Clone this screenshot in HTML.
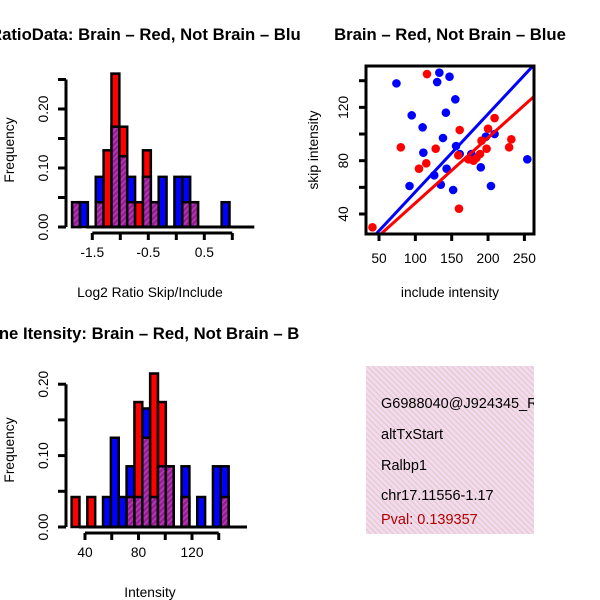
<!DOCTYPE html>
<html><head><meta charset="utf-8"><style>
body{margin:0;background:#fff}
svg{display:block;font-family:"Liberation Sans",sans-serif}
</style></head><body>
<svg id="c" width="600" height="600" viewBox="0 0 600 600" xmlns="http://www.w3.org/2000/svg">
<defs>
<pattern id="hatch" width="4" height="4" patternUnits="userSpaceOnUse" patternTransform="rotate(45)">
<rect width="4" height="4" fill="#9a1a9a"/><rect width="1.5" height="4" fill="#b040b0"/></pattern>
<pattern id="pink" width="4" height="4" patternUnits="userSpaceOnUse" patternTransform="rotate(-45)">
<rect width="4" height="4" fill="#f8d8f0"/><rect width="1.2" height="4" fill="#d8d0c8"/></pattern>
<clipPath id="cl1"><rect x="0" y="0" width="300" height="300"/></clipPath>
<clipPath id="cl2"><rect x="0" y="300" width="300" height="300"/></clipPath>
<clipPath id="cl3"><rect x="300" y="0" width="300" height="300"/></clipPath>
<clipPath id="cl4"><rect x="366" y="366" width="168" height="168"/></clipPath>
<clipPath id="sbox"><rect x="366" y="66" width="168" height="168"/></clipPath>
</defs>
<g id="p1"></g><g id="p2"></g><g id="p3"></g>
<g>
<rect x="366" y="366" width="168" height="168" fill="url(#pink)"/>
<g clip-path="url(#cl4)" font-size="14.5">
<text x="381" y="408">G6988040@J924345_RG</text>
<text x="381" y="439">altTxStart</text>
<text x="381" y="470">Ralbp1</text>
<text x="381" y="500">chr17.11556-1.17</text>
<text x="381" y="524" fill="#b00000">Pval: 0.139357</text>
</g></g>
</svg>
<script>
const NS="http://www.w3.org/2000/svg";
// Histogram 1 (ratio) data: frequencies per bin
const h1Red=[0.042,0,0,0.042,0.13,0.26,0.17,0.042,0.042,0.13,0.042,0,0,0,0.042,0.042,0,0,0,0];
const h1Blue=[0.042,0.042,0,0.085,0,0.17,0.12,0.085,0,0.085,0.042,0.085,0,0.085,0.085,0.042,0,0,0,0.042];
const h1XTicks=[-1.5,-1.0,-0.5,0.0,0.5,1.0];
const h1XLabels=["-1.5","","-0.5","","0.5",""];
const h1YTicks=[0,0.05,0.10,0.15,0.20,0.25];
const h1YLabels=["0.00","","0.10","","0.20",""];
const h1BinStart=-1.86, h1BinWidth=0.1405;
// Histogram 2 (intensity)
const h2Red=[0.042,0,0.042,0,0,0,0,0.042,0.175,0.125,0.215,0.175,0.085,0,0.042,0,0,0,0,0.042];
const h2Blue=[0,0,0,0,0.042,0.125,0.042,0.085,0.042,0.166,0.042,0.085,0.085,0,0.085,0,0.042,0,0.085,0.085];
const h2XTicks=[40,60,80,100,120,140];
const h2XLabels=["40","","80","","120",""];
const h2YTicks=[0,0.05,0.10,0.15,0.20];
const h2YLabels=["0.00","","0.10","","0.20"];
const h2BinStart=30, h2BinWidth=5.87;
// Scatter
const blueX=[74,133,130,147,155,95,142,110,138,111,156,161,177,197,209,143,126,92,135,152,190,204,254];
const blueY=[138,146,139,143,126,114,116,105,97,86,91,85,85,98,100,74,69,61,62,58,75,61,81];
const redX=[116,80,105,115,128,161,209,200,232,229,191,198,189,180,173,159,184,160,41];
const redY=[145,90,74,78,89,103,112,104,96,90,95,89,85,80,81,84,82,44,30];
const blueFit=[-1.8,0.584], redFit=[-0.8,0.49];
const sXTicks=[50,100,150,200,250], sYTicks=[40,60,80,100,120,140];
const sYLabels=["40","","80","","120",""];

const FS=13.8, TFS=16.7;
function el(p,tag,a,txt){const e=document.createElementNS(NS,tag);for(const k in a)e.setAttribute(k,a[k]);if(txt!==undefined)e.textContent=txt;p.appendChild(e);return e;}

function hist(g,o){
  const sx=v=>o.x0+(v-o.xmin)*o.kx, sy=v=>o.y0-v*o.ky;
  el(g,'text',{x:150,y:o.titleY,'font-size':TFS,'font-weight':'bold','text-anchor':'middle','clip-path':o.clip},o.title);
  for(let i=0;i<o.red.length;i++){
    const r=o.red[i],b=o.blue[i]; if(!r&&!b)continue;
    const x=sx(o.bs+i*o.bw), w=o.bw*o.kx, mx=Math.max(r,b), mn=Math.min(r,b);
    const top=el(g,'rect',{x:x,y:sy(mx),width:w,height:sy(0)-sy(mx),fill:r>=b?'#ff0000':'#0000ff',stroke:'#000','stroke-width':2.5});
    
    
    if(mn>0){const p=el(g,'rect',{x:x,y:sy(mn),width:w,height:sy(0)-sy(mn),fill:'url(#hatch)',stroke:'#000','stroke-width':2.5});
      
      }
  }
  el(g,'line',{x1:o.x0-6,x2:o.x0+162,y1:o.y0,y2:o.y0,stroke:'#000','stroke-width':3});
  const ya=el(g,'line',{x1:66,x2:66,y1:sy(0),y2:sy(o.yt[o.yt.length-1]),stroke:'#000','stroke-width':3});
  
  o.yt.forEach((v,i)=>{el(g,'line',{x1:58,x2:66,y1:sy(v),y2:sy(v),stroke:'#000','stroke-width':3});
    if(o.yl[i]){const t=el(g,'text',{x:48,y:sy(v),'font-size':FS,'text-anchor':'middle',transform:`rotate(-90 48 ${sy(v)})`},o.yl[i]);}});
  const xa=el(g,'line',{x1:sx(o.xt[0]),x2:sx(o.xt[o.xt.length-1]),y1:o.xaY,y2:o.xaY,stroke:'#000','stroke-width':3});
  
  o.xt.forEach((v,i)=>{el(g,'line',{x1:sx(v),x2:sx(v),y1:o.xaY,y2:o.xaY+7,stroke:'#000','stroke-width':3});
    if(o.xl[i]){const t=el(g,'text',{x:sx(v),y:o.xaY+24,'font-size':FS,'text-anchor':'middle'},o.xl[i]);}});
  const yt=el(g,'text',{x:14,y:o.y0-77,'font-size':FS,'text-anchor':'middle',transform:`rotate(-90 14 ${o.y0-77})`},'Frequency');
  const xtt=el(g,'text',{x:150,y:o.xaY+64,'font-size':FS,'text-anchor':'middle'},o.xtitle);
}
const p1=document.getElementById('p1');


hist(p1,{red:h1Red,blue:h1Blue,bs:h1BinStart,bw:h1BinWidth,xmin:-1.5,x0:92.3,kx:56,y0:227,ky:590,
  xt:h1XTicks,xl:h1XLabels,yt:h1YTicks,yl:h1YLabels,xaY:233,titleY:40,title:'RatioData: Brain \u2013 Red, Not Brain \u2013 Blue',clip:'url(#cl1)',xtitle:'Log2 Ratio Skip/Include'});
const p2=document.getElementById('p2');


hist(p2,{red:h2Red,blue:h2Blue,bs:h2BinStart,bw:h2BinWidth,xmin:40,x0:85,kx:1.3375,y0:527,ky:714,
  xt:h2XTicks,xl:h2XLabels,yt:h2YTicks,yl:h2YLabels,xaY:533,titleY:339,title:'Gene Itensity: Brain \u2013 Red, Not Brain \u2013 Blue',clip:'url(#cl2)',xtitle:'Intensity'});

// scatter
const p3=document.getElementById('p3');


const sx=v=>379+(v-50)*0.727, sy=v=>214-(v-40)*1.333;
const st=el(p3,'text',{x:450,y:40,'font-size':TFS,'font-weight':'bold','text-anchor':'middle','clip-path':'url(#cl3)'},'Brain \u2013 Red, Not Brain \u2013 Blue');

const pts=el(p3,'g',{'clip-path':'url(#sbox)'});
blueX.forEach((v,i)=>{const c=el(pts,'circle',{cx:sx(v),cy:sy(blueY[i]),r:4.3,fill:'#0000ff'});
  
  });
redX.forEach((v,i)=>{const c=el(pts,'circle',{cx:sx(v),cy:sy(redY[i]),r:4.3,fill:'#ff0000'});
  
  });
[[blueFit,'#0000ff','fit-line-blue'],[redFit,'#ff0000','fit-line-red']].forEach(([f,c,n])=>{
  const l=el(pts,'line',{x1:sx(20),y1:sy(f[0]+f[1]*20),x2:sx(300),y2:sy(f[0]+f[1]*300),stroke:c,'stroke-width':3});
  
  });
const bx=el(p3,'rect',{x:366,y:66,width:168,height:168,fill:'none',stroke:'#000','stroke-width':3});

sXTicks.forEach(v=>{el(p3,'line',{x1:sx(v),x2:sx(v),y1:234,y2:241,stroke:'#000','stroke-width':3});
  const t=el(p3,'text',{x:sx(v),y:263,'font-size':FS,'text-anchor':'middle'},String(v));});
sYTicks.forEach((v,i)=>{el(p3,'line',{x1:359,x2:366,y1:sy(v),y2:sy(v),stroke:'#000','stroke-width':3});
  if(sYLabels[i]){const t=el(p3,'text',{x:348,y:sy(v),'font-size':FS,'text-anchor':'middle',transform:`rotate(-90 348 ${sy(v)})`},sYLabels[i]);}});
const sxt=el(p3,'text',{x:450,y:297,'font-size':FS,'text-anchor':'middle'},'include intensity');
const syt=el(p3,'text',{x:318,y:150,'font-size':FS,'text-anchor':'middle',transform:'rotate(-90 318 150)'},'skip intensity');
</script>
</body></html>
